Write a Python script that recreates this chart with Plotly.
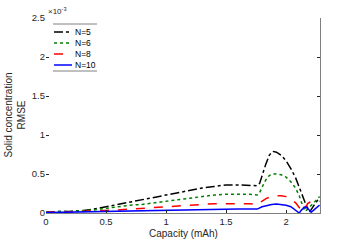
import plotly.graph_objects as go

# Data (RMSE in units of 1e-3)
x_n5 = [0, 0.1, 0.2, 0.3, 0.4, 0.5, 0.6, 0.7, 0.8, 0.9, 1.0, 1.1, 1.2, 1.3, 1.4, 1.5, 1.6, 1.7, 1.76,
        1.78, 1.8, 1.83, 1.86, 1.89, 1.92, 1.96, 2.0, 2.04, 2.08, 2.11, 2.13, 2.15, 2.17, 2.19, 2.2,
        2.22, 2.25, 2.28]
y_n5 = [0.01, 0.02, 0.02, 0.03, 0.05, 0.08, 0.11, 0.14, 0.17, 0.2, 0.23, 0.26, 0.29, 0.32, 0.34, 0.36, 0.36,
        0.35, 0.35, 0.38, 0.48, 0.62, 0.74, 0.79, 0.78, 0.74, 0.67, 0.57, 0.45, 0.34, 0.26, 0.17, 0.09,
        0.03, 0.02, 0.07, 0.13, 0.2]

x_n6 = [0, 0.1, 0.2, 0.3, 0.4, 0.5, 0.6, 0.7, 0.8, 0.9, 1.0, 1.1, 1.2, 1.3, 1.4, 1.5, 1.6, 1.7, 1.76,
        1.78, 1.8, 1.83, 1.86, 1.89, 1.92, 1.96, 2.0, 2.04, 2.08, 2.11, 2.13, 2.15, 2.16, 2.18, 2.21,
        2.25, 2.28]
y_n6 = [0.01, 0.02, 0.02, 0.03, 0.04, 0.06, 0.08, 0.1, 0.11, 0.13, 0.15, 0.17, 0.19, 0.21, 0.23, 0.24, 0.24,
        0.24, 0.23, 0.26, 0.33, 0.42, 0.48, 0.5, 0.5, 0.49, 0.46, 0.4, 0.32, 0.22, 0.13, 0.05, 0.02,
        0.05, 0.1, 0.16, 0.21]

x_n8 = [0, 0.1, 0.2, 0.3, 0.4, 0.5, 0.6, 0.7, 0.8, 0.9, 1.0, 1.1, 1.2, 1.3, 1.4, 1.5, 1.6, 1.7, 1.76,
        1.8, 1.84, 1.88, 1.92, 1.96, 2.0, 2.04, 2.08, 2.11, 2.14, 2.16, 2.18, 2.21, 2.25, 2.28]
y_n8 = [0.01, 0.01, 0.015, 0.02, 0.025, 0.03, 0.04, 0.05, 0.06, 0.07, 0.08, 0.09, 0.1, 0.11, 0.12, 0.12,
        0.12, 0.12, 0.11, 0.15, 0.19, 0.21, 0.22, 0.22, 0.21, 0.18, 0.13, 0.07, 0.01, 0.06, 0.12, 0.15,
        0.14, 0.15]

x_n10 = [0, 0.1, 0.2, 0.3, 0.4, 0.5, 0.6, 0.7, 0.8, 0.9, 1.0, 1.1, 1.2, 1.3, 1.4, 1.5, 1.6, 1.7, 1.76,
         1.8, 1.84, 1.88, 1.92, 1.96, 2.0, 2.04, 2.08, 2.11, 2.13, 2.16, 2.18, 2.21, 2.24, 2.28]
y_n10 = [0.005, 0.008, 0.01, 0.012, 0.015, 0.02, 0.023, 0.026, 0.03, 0.035, 0.04, 0.043, 0.046, 0.05, 0.05,
         0.05, 0.05, 0.05, 0.05, 0.08, 0.1, 0.11, 0.115, 0.11, 0.1, 0.08, 0.04, 0.0, 0.04, 0.08, 0.06,
         0.01, 0.05, 0.1]

series_names = ["N=5", "N=6", "N=8", "N=10"]
series_x = [x_n5, x_n6, x_n8, x_n10]
series_y = [y_n5, y_n6, y_n8, y_n10]
colors = ["#000000", "#008000", "#ff0000", "#0000ff"]
dashes = ["dashdot", "dot", "dash", "solid"]

x_ticks = [0, 0.5, 1, 1.5, 2]
x_tick_labels = ["0", "0.5", "1", "1.5", "2"]
y_ticks = [0, 0.5, 1, 1.5, 2, 2.5]
y_tick_labels = ["0", "0.5", "1", "1.5", "2", "2.5"]

W, H = 354, 243
L, R, T, B = 46, 34, 18, 30
pw, ph = W - L - R, H - T - B


def px(xp):
    return (xp - L) / pw


def py(yp):
    return (H - B - yp) / ph


FONT = "Liberation Sans, Arial, sans-serif"
TXT = "#262626"

fig = go.Figure()
for xs, ys, c, d, n in zip(series_x, series_y, colors, dashes, series_names):
    fig.add_trace(go.Scatter(x=xs, y=ys, mode="lines", name=n,
                             line=dict(color=c, dash=d, width=1.5), showlegend=False))

# invisible trace for the right-side mirrored axis
fig.add_trace(go.Scatter(x=[None], y=[None], yaxis="y2", showlegend=False, hoverinfo="skip"))

shapes = []
annotations = []
# legend frame lines (top and bottom)
for yy in (24, 71):
    shapes.append(dict(type="line", xref="paper", yref="paper", x0=px(53), x1=px(97),
                       y0=py(yy), y1=py(yy), line=dict(color="#808080", width=1)))
legend_y = [32, 43, 54, 65]
for n, c, d, yy in zip(series_names, colors, dashes, legend_y):
    shapes.append(dict(type="line", xref="paper", yref="paper", x0=px(54), x1=px(72),
                       y0=py(yy), y1=py(yy), line=dict(color=c, dash=d, width=1.5)))
    annotations.append(dict(text=n, xref="paper", yref="paper", x=px(73), y=py(yy),
                            xanchor="left", yanchor="middle", showarrow=False,
                            font=dict(family=FONT, size=8.5, color="#000000")))

annotations.append(dict(text="×10<sup>-3</sup>", xref="paper", yref="paper", x=0.0, y=1.0,
                        xanchor="left", yanchor="bottom", showarrow=False,
                        font=dict(family=FONT, size=8, color=TXT)))
annotations.append(dict(text="Solid concentration<br>RMSE", xref="paper", yref="paper",
                        x=px(14), y=0.5, xanchor="center", yanchor="middle", textangle=-90,
                        showarrow=False, font=dict(family=FONT, size=10, color=TXT)))
annotations.append(dict(text="Capacity (mAh)", xref="paper", yref="paper",
                        x=0.5, y=py(233), xanchor="center", yanchor="middle",
                        showarrow=False, font=dict(family=FONT, size=10, color=TXT)))

fig.update_layout(
    width=W, height=H,
    margin=dict(l=L, r=R, t=T, b=B, pad=0),
    paper_bgcolor="white", plot_bgcolor="white",
    font=dict(family=FONT, size=9, color=TXT),
    xaxis=dict(range=[0, 2.283], tickvals=x_ticks, ticktext=x_tick_labels, automargin=False,
               ticks="inside", ticklen=3, tickcolor=TXT, showline=True, linecolor="#808080",
               linewidth=1, showgrid=False, zeroline=False,
               tickfont=dict(size=9.5, color=TXT)),
    yaxis=dict(range=[0, 2.5], tickvals=y_ticks, ticktext=y_tick_labels, automargin=False,
               ticks="inside", ticklen=3, tickcolor=TXT, showline=False,
               showgrid=False, zeroline=False, tickfont=dict(size=9.5, color=TXT)),
    yaxis2=dict(range=[0, 2.5], overlaying="y", side="right", tickvals=y_ticks, automargin=False,
                showticklabels=False, ticks="inside", ticklen=3, tickcolor=TXT,
                showline=True, linecolor="#808080", linewidth=1, showgrid=False, zeroline=False),
    shapes=shapes, annotations=annotations,
)

fig.write_html("out.html", config={"displayModeBar": False},
               post_script="document.body.style.margin='0';")
